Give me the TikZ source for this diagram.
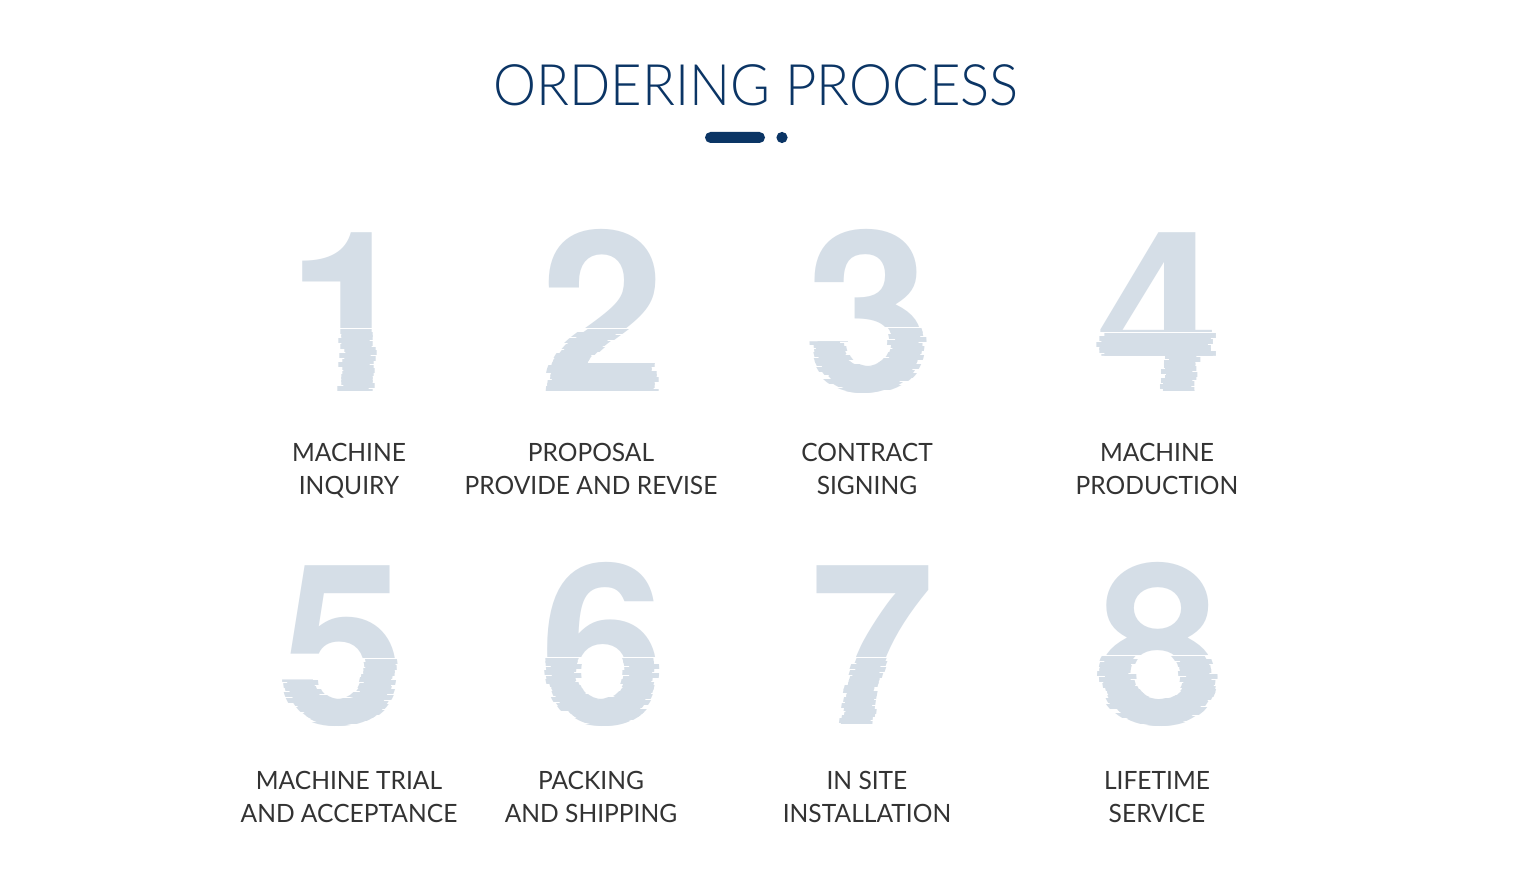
\documentclass[tikz,border=0pt]{standalone}
\usepackage{fontspec}
\setmainfont{Lato}[FakeStretch=0.975]
\newfontfamily\titlefont{Lato Light}[FakeStretch=0.95]
\newfontfamily\numfont{TeX Gyre Heros}
\usetikzlibrary{calc}
\definecolor{navy}{HTML}{0B3565}
\definecolor{numgray}{HTML}{D5DEE7}
\definecolor{lblgray}{HTML}{333333}
\tikzset{title/.style={font=\titlefont\fontsize{28.6}{28.6}\selectfont, text=navy, anchor=base, inner sep=0pt}}
\tikzset{num/.style={font=\numfont\bfseries\fontsize{112}{112}\selectfont, text=numgray, anchor=base, inner sep=0pt}}
\tikzset{lbl/.style={font=\fontsize{12.6}{16.5}\selectfont, text=lblgray, align=center, anchor=base, inner sep=0pt}}

\begin{document}
\begin{tikzpicture}[x=0.5pt,y=-0.5pt]
    \fill[white] (0,0) rectangle (1516,876);
    \useasboundingbox (0,0) rectangle (1516,876);
    \node[title] (ttl) at (756,106) {ORDERING PROCESS};
    \fill[navy, rounded corners=2.75pt] (705,132) rectangle (765,143);
    \fill[navy] (782,137.5) circle (2.8pt);
    \pgfmathsetseed{7}
    \foreach \d/\cx/\by/\sy in {1/350/392/328, 2/603/392/328, 3/869/392/327, 4/1158/392/332,
                                5/343/725/658, 6/603/725/657, 7/873/725/657, 8/1159/725/655} {
      \begin{scope}
        \clip (\cx-100,\sy) rectangle (\cx+100,\by-200);
        \node[num] (n\d) at (\cx,\by) {\d};
      \end{scope}
      \foreach \s in {0,...,24} {
        \pgfmathsetmacro\ya{\sy+2+3*\s}
        \pgfmathsetmacro\sh{4.5*rand}
        \begin{scope}
          \clip (\cx-100,\ya) rectangle (\cx+100,\ya+4);
          \node[num] at (\cx+\sh,\by) {\d};
        \end{scope}
      }
    }
    \node[lbl] (t1) at (349,495) {MACHINE\\INQUIRY};
    \node[lbl] (t2) at (591,495) {PROPOSAL\\PROVIDE AND REVISE};
    \node[lbl] (t3) at (867,495) {CONTRACT\\SIGNING};
    \node[lbl] (t4) at (1157,495) {MACHINE\\PRODUCTION};
    \node[lbl] (t5) at (349,822) {MACHINE TRIAL\\AND ACCEPTANCE};
    \node[lbl] (t6) at (591,822) {PACKING\\AND SHIPPING};
    \node[lbl] (t7) at (867,822) {IN SITE\\INSTALLATION};
    \node[lbl] (t8) at (1157,822) {LIFETIME\\SERVICE};
  \end{tikzpicture}
\end{document}
